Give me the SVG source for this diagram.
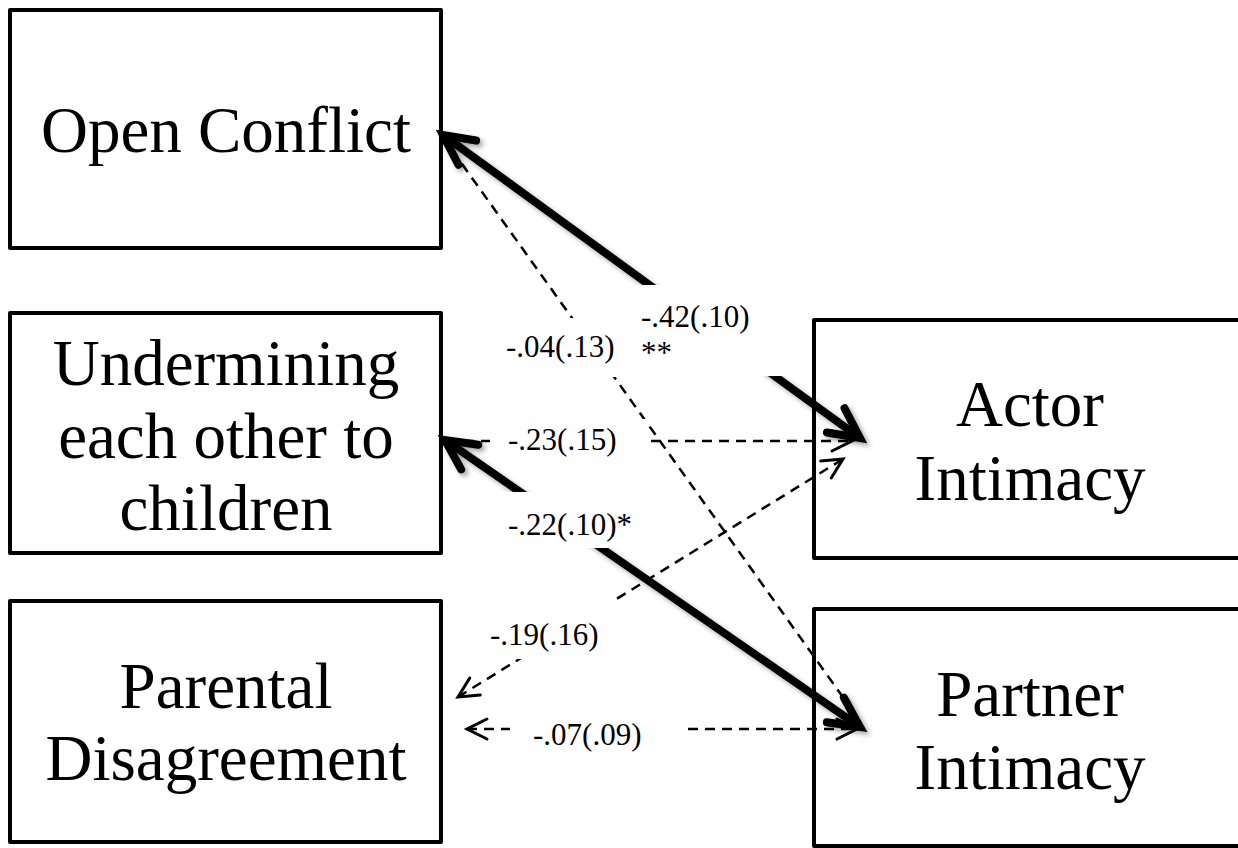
<svg xmlns="http://www.w3.org/2000/svg" width="1238" height="848" viewBox="0 0 1238 848">
<style>
.box{fill:#fff;stroke:#000;stroke-width:4;stroke-linejoin:round}
.nt{font-family:"Liberation Serif","Times New Roman",serif;font-size:65px;fill:#000;text-anchor:middle}
.lb{font-family:"Liberation Serif","Times New Roman",serif;font-size:31px;fill:#000}
.thick{fill:none;stroke:#000;stroke-width:8;filter:url(#sh)}
.dash{fill:none;stroke:#000;stroke-width:2.5;stroke-dasharray:10 7}
.mask{fill:#fff;stroke:none}
</style>
<defs>
<filter id="sh" x="-20%" y="-20%" width="140%" height="140%">
<feDropShadow dx="3" dy="3" stdDeviation="2.5" flood-color="#000" flood-opacity="0.35"/>
</filter>
<marker id="ah" viewBox="-45 -30 55 60" markerWidth="55" markerHeight="60" refX="0" refY="0" markerUnits="userSpaceOnUse" orient="auto-start-reverse" overflow="visible">
<path d="M-30,-15 L0,0 L-30,15" fill="none" stroke="#000" stroke-width="8" stroke-linecap="round" stroke-linejoin="miter"/>
</marker>
<marker id="at" viewBox="-30 -20 40 40" markerWidth="40" markerHeight="40" refX="0" refY="0" markerUnits="userSpaceOnUse" orient="auto-start-reverse" overflow="visible">
<path d="M-20,-10 L0,0 L-20,10" fill="none" stroke="#000" stroke-width="3" stroke-linecap="round" stroke-linejoin="miter"/>
</marker>
</defs>
<rect width="1238" height="848" fill="#fff"/>
<g id="node-open-conflict">
<rect class="box" x="10" y="10" width="431" height="238"/>
<text class="nt" x="226" y="152">Open Conflict</text>
</g>
<g id="node-undermining">
<rect class="box" x="10" y="313" width="431" height="240"/>
<text class="nt" x="226" y="385">Undermining</text>
<text class="nt" x="226" y="458">each other to</text>
<text class="nt" x="226" y="530">children</text>
</g>
<g id="node-parental">
<rect class="box" x="10" y="601" width="431" height="241"/>
<text class="nt" x="226" y="708">Parental</text>
<text class="nt" x="226" y="780">Disagreement</text>
</g>
<g id="node-actor">
<rect class="box" x="814" y="320" width="500" height="238"/>
<text class="nt" x="1030" y="426">Actor</text>
<text class="nt" x="1030" y="500">Intimacy</text>
</g>
<g id="node-partner">
<rect class="box" x="814" y="609" width="500" height="237"/>
<text class="nt" x="1030" y="716">Partner</text>
<text class="nt" x="1030" y="789">Intimacy</text>
</g>
<g id="connectors">
<path class="dash" d="M452,150 L855,714"/>
<path class="dash" d="M447,441 L852,441" marker-end="url(#at)"/>
<path class="dash" d="M458,697 L843,459" marker-start="url(#at)" marker-end="url(#at)"/>
<path class="dash" d="M467,729 L857,729" marker-start="url(#at)" marker-end="url(#at)"/>
<path class="thick" d="M443,135 L860,438" marker-start="url(#ah)" marker-end="url(#ah)"/>
<path class="thick" d="M445,440 L860,727" marker-start="url(#ah)" marker-end="url(#ah)"/>
<rect class="mask" x="632" y="285" width="168" height="91"/>
<rect class="mask" x="498" y="318" width="127" height="59"/>
<rect class="mask" x="490" y="419" width="158" height="44"/>
<rect class="mask" x="482" y="492" width="158" height="56"/>
<rect class="mask" x="480" y="601" width="135" height="58"/>
<rect class="mask" x="510" y="712" width="174" height="40"/>
<text class="lb" x="641" y="327">-.42(.10)</text>
<text class="lb" x="641" y="363">**</text>
<text class="lb" x="506" y="357">-.04(.13)</text>
<text class="lb" x="508" y="450">-.23(.15)</text>
<text class="lb" x="508" y="535">-.22(.10)*</text>
<text class="lb" x="490" y="645">-.19(.16)</text>
<text class="lb" x="533" y="745">-.07(.09)</text>
</g>
</svg>
